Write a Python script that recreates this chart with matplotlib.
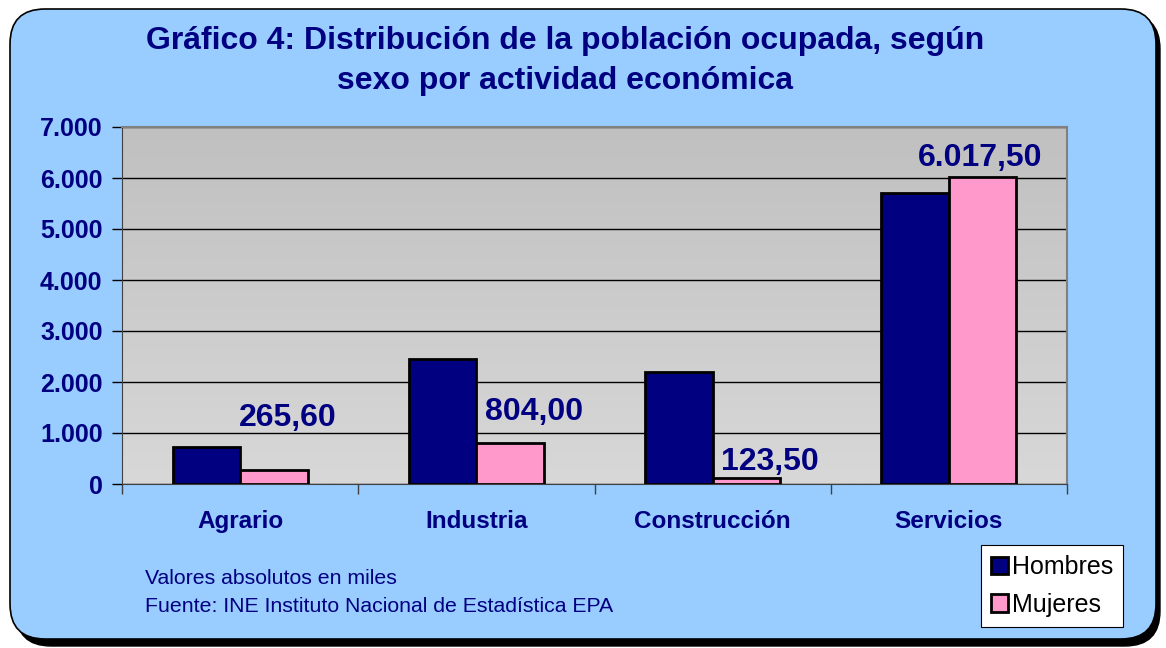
import matplotlib
matplotlib.use("Agg")
import matplotlib.pyplot as plt
import numpy as np
from matplotlib.patches import FancyBboxPatch
from matplotlib.colors import LinearSegmentedColormap

plt.rcParams['font.family'] = ['Liberation Sans', 'DejaVu Sans']

categories = ["Agrario", "Industria", "Construcción", "Servicios"]
hombres = [725, 2445, 2200, 5705]
mujeres = [265.60, 804.00, 123.50, 6017.50]
label_texts = ["265,60", "804,00", "123,50", "6.017,50"]
yticks = [0, 1000, 2000, 3000, 4000, 5000, 6000, 7000]
ytick_labels = ["0", "1.000", "2.000", "3.000", "4.000", "5.000", "6.000", "7.000"]
series_names = ["Hombres", "Mujeres"]

# label placement offsets (points) relative to the top of each Mujeres bar
label_dx = [10, 17, 17, -2]
label_dy = [38, 22, 11, 14]

NAVY = "#000080"
PINK = "#FF99CC"
BG = "#99CCFF"

fig = plt.figure(figsize=(11.66, 6.48), dpi=100)
fig.patch.set_facecolor("white")

# rounded frame with shadow (inches)
shadow = FancyBboxPatch((0.16, 0.02), 11.44, 6.32,
                        boxstyle="round,pad=0,rounding_size=0.35",
                        transform=fig.dpi_scale_trans, facecolor="black",
                        edgecolor="black", zorder=0)
frame = FancyBboxPatch((0.10, 0.09), 11.46, 6.30,
                       boxstyle="round,pad=0,rounding_size=0.35",
                       transform=fig.dpi_scale_trans, facecolor=BG,
                       edgecolor="black", linewidth=1.2, zorder=1)
fig.patches.extend([shadow, frame])

ax = fig.add_axes([122/1166, 1 - 484/648, (1067-122)/1166, (484-127)/648])
ax.set_zorder(2)

# gradient background
cmap = LinearSegmentedColormap.from_list("g", ["#D8D8D8", "#C0C0C0"])
grad = np.linspace(0, 1, 256).reshape(-1, 1)
ax.imshow(grad, extent=(0, 1, 0, 1), transform=ax.transAxes, aspect="auto",
          cmap=cmap, origin="lower", zorder=0)

x = np.arange(len(categories))
w = 1 / 3.5
b1 = ax.bar(x - w/2, hombres, width=w, color=NAVY, edgecolor="black",
            linewidth=2, zorder=3, label=series_names[0])
b2 = ax.bar(x + w/2, mujeres, width=w, color=PINK, edgecolor="black",
            linewidth=2, zorder=3, label=series_names[1])

for i, (xi, v) in enumerate(zip(x + w/2, mujeres)):
    ax.annotate(label_texts[i], (xi, v), xytext=(label_dx[i], label_dy[i]),
                textcoords="offset points", ha="center", va="center",
                fontsize=23, fontweight="bold", color=NAVY, zorder=5)

ax.set_xlim(-0.5, 3.5)
ax.set_ylim(0, 7000)
ax.set_yticks(yticks)
ax.set_yticklabels(ytick_labels, fontsize=18, fontweight="bold", color=NAVY)
ax.yaxis.grid(True, color="black", linewidth=1, zorder=1)
ax.set_axisbelow(True)
ax.tick_params(axis="y", direction="out", length=7, width=1, color="black", pad=7)

ax.set_xticks([-0.5, 0.5, 1.5, 2.5, 3.5])
ax.set_xticklabels([])
ax.set_xticks(x, minor=True)
ax.set_xticklabels(categories, minor=True, fontsize=17.5, fontweight="bold", color=NAVY)
ax.tick_params(axis="x", which="major", direction="out", length=7, width=1, color="#404040")
ax.tick_params(axis="x", which="minor", length=0, pad=19)

for s in ["top", "right"]:
    ax.spines[s].set_color("#808080")
    ax.spines[s].set_linewidth(1.5)
ax.spines["left"].set_color("#404040")
ax.spines["bottom"].set_color("#404040")

fig.text(565/1166, 1 - 61/648,
         "Gráfico 4: Distribución de la población ocupada, según\nsexo por actividad económica",
         ha="center", va="center", fontsize=23, fontweight="bold", color=NAVY,
         linespacing=1.4, zorder=3)

fig.text(145/1166, 1 - 579/648, "Valores absolutos en miles", fontsize=15.3,
         color=NAVY, va="center", ha="left", zorder=3)
fig.text(145/1166, 1 - 607/648, "Fuente: INE Instituto Nacional de Estadística EPA",
         fontsize=15.3, color=NAVY, va="center", ha="left", zorder=3)

leg = fig.legend(handles=[b1, b2], labels=series_names, loc="center",
                 bbox_to_anchor=(1052/1166, 1 - 586/648), frameon=True,
                 fancybox=False, edgecolor="black", facecolor="white",
                 framealpha=1, fontsize=18, handlelength=0.7, handleheight=0.7,
                 handletextpad=0.15, borderpad=0.4, labelspacing=0.55,
                 borderaxespad=0)
leg.get_frame().set_linewidth(0.8)
leg.set_zorder(4)

fig.savefig("out.png", dpi=100)
